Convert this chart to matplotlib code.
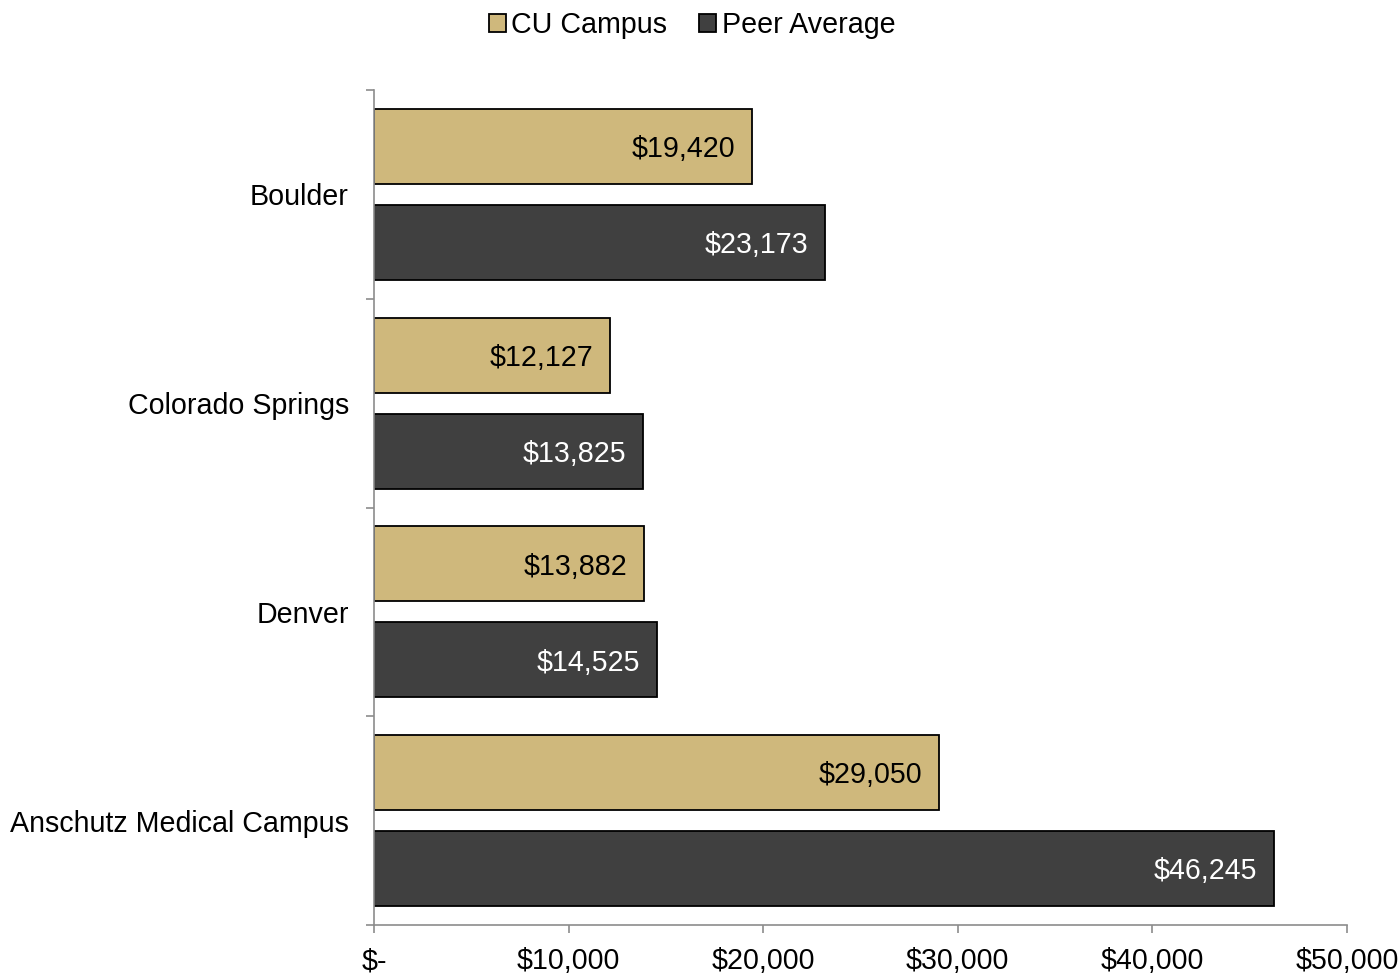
import numpy as np
import matplotlib
matplotlib.use("Agg")
import matplotlib.pyplot as plt

plt.rcParams['font.family'] = ['Liberation Sans', 'DejaVu Sans']

campuses = ["Boulder", "Colorado Springs", "Denver", "Anschutz Medical Campus"]
cu_campus = [19420, 12127, 13882, 29050]
peer_average = [23173, 13825, 14525, 46245]
x_ticks = [0, 10000, 20000, 30000, 40000, 50000]
x_labels = ["$-", "$10,000", "$20,000", "$30,000", "$40,000", "$50,000"]

gold = "#CFB87C"
dark = "#404040"
axis_grey = "#8C8C8C"
fs = 20.6

fig = plt.figure(figsize=(14, 9.74), dpi=100)
ax = fig.add_axes([374 / 1400, 1 - 925 / 974, (1347 - 374) / 1400, (925 - 90) / 974])

pos = np.arange(len(campuses))
h = 0.36
off = 0.23
b1 = ax.barh(pos - off, cu_campus, height=h, color=gold, edgecolor="black", linewidth=1.3, label="CU Campus")
b2 = ax.barh(pos + off, peer_average, height=h, color=dark, edgecolor="black", linewidth=1.3, label="Peer Average")

for bars, vals, col in [(b1, cu_campus, "black"), (b2, peer_average, "white")]:
    for r, v in zip(bars, vals):
        ax.annotate("${:,}".format(v), (v, r.get_y() + r.get_height() / 2),
                    xytext=(-12, -2), textcoords="offset points",
                    ha="right", va="center", fontsize=fs, color=col)

ax.set_xlim(0, 50000)
ax.set_ylim(len(campuses) - 0.5, -0.5)
ax.set_xticks(x_ticks)
ax.set_xticklabels(x_labels)
ax.set_yticks(np.arange(len(campuses) + 1) - 0.5)
ax.set_yticklabels([])
ax.set_yticks(pos, minor=True)
ax.set_yticklabels(campuses, minor=True)

ax.tick_params(axis="y", which="major", length=6, color=axis_grey, width=1.2)
ax.tick_params(axis="y", which="minor", length=0, pad=18, labelsize=fs)
ax.tick_params(axis="x", length=6, color=axis_grey, width=1.2, pad=10, labelsize=fs)

for s in ["top", "right"]:
    ax.spines[s].set_visible(False)
for s in ["left", "bottom"]:
    ax.spines[s].set_color(axis_grey)
    ax.spines[s].set_linewidth(1.2)

fig.legend(handles=[b1, b2], loc="center", bbox_to_anchor=(692 / 1400, 1 - 25 / 974),
           ncol=2, frameon=False, fontsize=fs, handlelength=0.6, handleheight=0.6,
           handletextpad=0.2, columnspacing=1.1)

fig.savefig("out.png", dpi=100)
